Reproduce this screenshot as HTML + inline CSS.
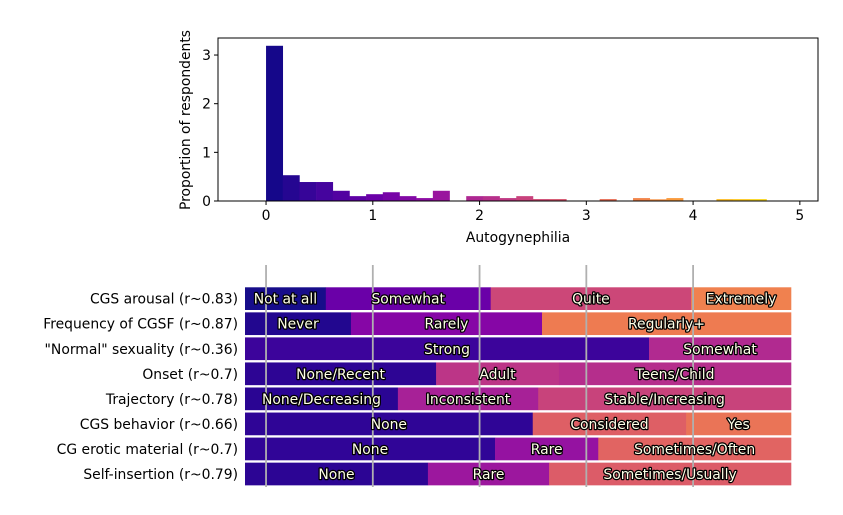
<!DOCTYPE html>
<html><head><meta charset="utf-8"><style>
body{margin:0;background:#fff}
svg text{font-family:"DejaVu Sans","Liberation Sans",sans-serif;font-size:13.9px}
</style></head><body>
<svg id="chart" width="843" height="510" xmlns="http://www.w3.org/2000/svg">
<g id="topg"></g>
<g id="botg"></g>
</svg>
<script>
const histValues=[3.19,0.53,0.39,0.39,0.21,0.10,0.14,0.18,0.10,0.06,0.21,0,0.10,0.10,0.06,0.10,0.04,0.04,0,0,0.04,0,0.06,0.035,0.06,0,0,0.04,0.04,0.04,0,0];
const histBinWidth=5/32;
const xTicks=[0,1,2,3,4,5];
const yTicks=[0,1,2,3];
const rowLabels=["CGS arousal (r~0.83)","Frequency of CGSF (r~0.87)","\"Normal\" sexuality (r~0.36)","Onset (r~0.7)","Trajectory (r~0.78)","CGS behavior (r~0.66)","CG erotic material (r~0.7)","Self-insertion (r~0.79)"];
const segNames=[["Not at all","Somewhat","Quite","Extremely"],["Never","Rarely","Regularly+"],["Strong","Somewhat"],["None/Recent","Adult","Teens/Child"],["None/Decreasing","Inconsistent","Stable/Increasing"],["None","Considered","Yes"],["None","Rare","Sometimes/Often"],["None","Rare","Sometimes/Usually"]];
const segShares=[[0.148,0.302,0.367,0.183],[0.194,0.350,0.456],[0.74,0.26],[0.35,0.225,0.425],[0.28,0.257,0.463],[0.527,0.281,0.192],[0.458,0.189,0.353],[0.335,0.222,0.443]];
const segColors=[["#170d8a","#6a00a8","#cc4778","#f0814f"],["#22078f","#8606a6","#ee7b51"],["#3c049b","#b12a90"],["#2d0594","#bc3587","#b52e8c"],["#2a0593","#a72197","#c8437b"],["#2f0596","#de5f65","#ea7457"],["#300597","#9512a1","#e16462"],["#2c0594","#9c179e","#dc5c68"]];
const NS="http://www.w3.org/2000/svg";
function mk(p,t,a){const e=document.createElementNS(NS,t);for(const k in a)e.setAttribute(k,a[k]);p.appendChild(e);return e;}
const plasma=["#0d0887","#41049d","#6a00a8","#8f0da4","#b12a90","#cc4778","#e16462","#f2844b","#fca636","#fcce25","#f0f921"];
function hx(h){return [1,3,5].map(i=>parseInt(h.substr(i,2),16));}
function cmap(t){t=Math.max(0,Math.min(1,t));const f=t*10,i=Math.min(9,Math.floor(f)),r=f-i;const a=hx(plasma[i]),b=hx(plasma[i+1]);return "rgb("+a.map((v,j)=>Math.round(v+(b[j]-v)*r)).join(",")+")";}
const L=218,R=818,T=38,B=201;
const xs=v=>L+(v+0.45)/5.62*(R-L);
const ys=v=>B-v/3.35*(B-T);
const topG=document.getElementById('topg');
histValues.forEach((v,i)=>{if(v<=0)return;const x0=xs(i*histBinWidth),x1=xs((i+1)*histBinWidth);
 const r=mk(topG,'rect',{x:x0,y:ys(v),width:x1-x0+0.3,height:B-ys(v),fill:cmap((i+0.5)*histBinWidth/5)});
 
 });
const fr=mk(topG,'rect',{x:L,y:T,width:R-L,height:B-T,fill:'none',stroke:'#000','stroke-width':1});


xTicks.forEach(t=>{const x=xs(t);mk(topG,'line',{x1:x,x2:x,y1:B,y2:B+4,stroke:'#000'});
 const tx=mk(topG,'text',{x:x,y:B+19,'text-anchor':'middle'});tx.textContent=t;
 
 });
yTicks.forEach(t=>{const y=ys(t);mk(topG,'line',{x1:L-4,x2:L,y1:y,y2:y,stroke:'#000'});
 const tx=mk(topG,'text',{x:L-7,y:y+5,'text-anchor':'end'});tx.textContent=t;
 
 });
const xl=mk(topG,'text',{x:518,y:242,'text-anchor':'middle'});xl.textContent='Autogynephilia';


const yl=mk(topG,'text',{x:0,y:0,'text-anchor':'middle',transform:'translate(190,120) rotate(-90)'});yl.textContent='Proportion of respondents';


const botG=document.getElementById('botg');
const BL=245,BR=791,rowTop=287.3,pitch=25.05,bh=22.7;
rowLabels.forEach((lab,r)=>{const y=rowTop+r*pitch;
 const t=mk(botG,'text',{x:238,y:y+bh/2+5,'text-anchor':'end'});t.textContent=lab;
 
 
 let c=0;segShares[r].forEach((s,k)=>{const x0=BL+c*(BR-BL),w=s*(BR-BL);c+=s;
  const rc=mk(botG,'rect',{x:x0,y:y,width:w+0.3,height:bh,fill:segColors[r][k]});
  
  });});
xTicks.slice(0,5).forEach(t=>{const x=xs(t);const l=mk(botG,'line',{x1:x,x2:x,y1:265,y2:487,stroke:'#b0b0b0','stroke-width':1.8});
 
 });
rowLabels.forEach((lab,r)=>{const y=rowTop+r*pitch;let c=0;
 segShares[r].forEach((s,k)=>{const cx=BL+(c+s/2)*(BR-BL);c+=s;
  const t=mk(botG,'text',{x:cx,y:y+bh/2+5,'text-anchor':'middle',fill:'#ffffe8',stroke:'#000','stroke-width':2.5,'paint-order':'stroke','stroke-linejoin':'round'});
  t.textContent=segNames[r][k];
  
  });});
</script>
</body></html>
